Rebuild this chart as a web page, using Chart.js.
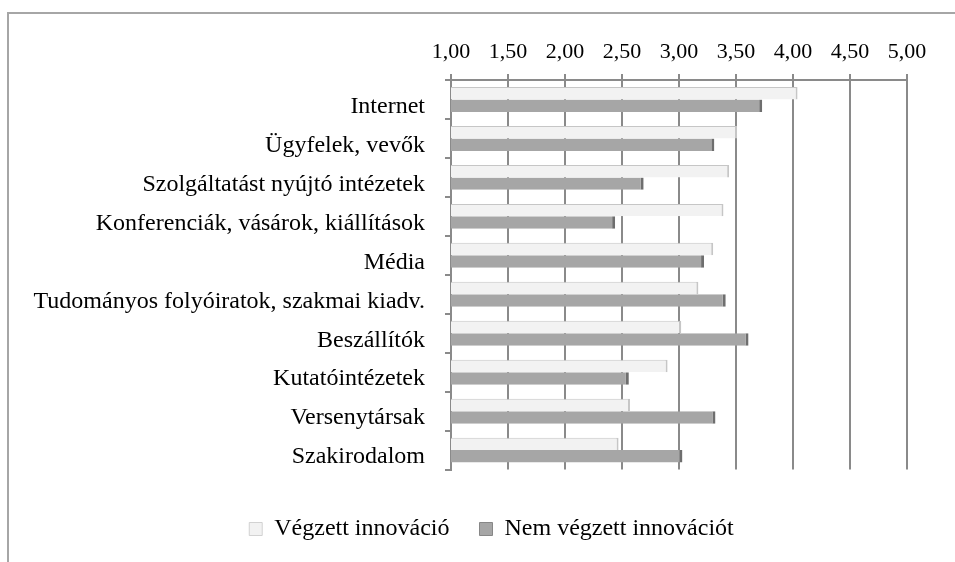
<!DOCTYPE html>
<html>
<head>
<meta charset="utf-8">
<script src="https://cdn.jsdelivr.net/npm/chart.js@4"></script>
<style>
    html, body { margin: 0; padding: 0; background: #fff; overflow: hidden; }
    #frame {
        position: absolute; left: 7px; top: 12px; width: 980px; height: 600px;
        border-top: 2px solid #a6a6a6; border-left: 2px solid #a6a6a6;
    }
    #wrap { position: absolute; left: 0; top: 0; width: 955px; height: 562px; }
</style>
</head>
<body>
<div id="frame"></div>
<div id="wrap"><canvas id="chart"></canvas></div>
<script>
// Categories (top to bottom)
const categories = [
    "Internet",
    "Ügyfelek, vevők",
    "Szolgáltatást nyújtó intézetek",
    "Konferenciák, vásárok, kiállítások",
    "Média",
    "Tudományos folyóiratok, szakmai kiadv.",
    "Beszállítók",
    "Kutatóintézetek",
    "Versenytársak",
    "Szakirodalom",
];

// Series values
const vegzett = [4.04, 3.51, 3.44, 3.39, 3.30, 3.17, 3.02, 2.90, 2.57, 2.47];
const nemVegzett = [3.73, 3.31, 2.69, 2.44, 3.22, 3.41, 3.61, 2.56, 3.32, 3.03];

// Axis ticks
const xMin = 1;
const xMax = 5;
const xStep = 0.5;

const seriesNames = ["Végzett innováció", "Nem végzett innovációt"];

const gridGrey = "#8a8a8a";
const fontFamily = "'Liberation Serif', 'Times New Roman', serif";

Chart.defaults.font.family = fontFamily;
Chart.defaults.color = "#000";

const ctx = document.getElementById("chart").getContext("2d");

new Chart(ctx, {
    type: "bar",
    data: {
        labels: categories,
        datasets: [
            {
                label: seriesNames[0],
                data: vegzett,
                backgroundColor: "#f2f2f2",
                borderColor: "#c6c6c6",
                borderWidth: { top: 1, right: 2, bottom: 0, left: 0 },
                borderSkipped: false,
                categoryPercentage: 0.64,
                barPercentage: 1,
            },
            {
                label: seriesNames[1],
                data: nemVegzett,
                backgroundColor: "#a6a6a6",
                borderColor: "#6e6e6e",
                borderWidth: { top: 0, right: 3, bottom: 0, left: 0 },
                borderSkipped: false,
                categoryPercentage: 0.64,
                barPercentage: 1,
            },
        ],
    },
    options: {
        indexAxis: "y",
        responsive: true,
        maintainAspectRatio: false,
        animation: false,
        layout: {
            padding: { left: 28, right: 0, top: 0, bottom: 11 },
        },
        scales: {
            x: {
                position: "top",
                min: xMin,
                max: xMax,
                afterFit: (s) => { s.height = 80; },
                ticks: {
                    stepSize: xStep,
                    padding: 9,
                    font: { size: 22 },
                    color: "#000",
                    callback: (v) => Number(v).toFixed(2).replace(".", ","),
                },
                grid: {
                    color: gridGrey,
                    lineWidth: 2,
                    tickLength: 6,
                },
                border: { display: true, color: gridGrey, width: 2 },
            },
            y: {
                afterFit: (s) => { s.width = 423; },
                ticks: {
                    padding: 20,
                    labelOffset: 7,
                    font: { size: 24 },
                    color: "#000",
                },
                grid: {
                    display: true,
                    drawOnChartArea: false,
                    drawTicks: true,
                    tickLength: 6,
                    color: gridGrey,
                    lineWidth: 2,
                    offset: true,
                },
                border: { display: true, color: gridGrey, width: 2 },
            },
            // empty right-hand spacer so the plot ends where the original does
            spacer: {
                type: "linear",
                axis: "y",
                position: "right",
                afterFit: (s) => { s.width = 48; },
                ticks: { display: false },
                grid: { display: false },
                border: { display: false },
            },
        },
        plugins: {
            legend: {
                position: "bottom",
                title: { display: true, text: "", font: { size: 12 }, padding: { top: 3, bottom: 0 } },
                labels: {
                    boxWidth: 13,
                    boxHeight: 13,
                    padding: 30,
                    font: { size: 24 },
                    color: "#000",
                },
            },
            tooltip: { enabled: false },
        },
    },
});
</script>
</body>
</html>
